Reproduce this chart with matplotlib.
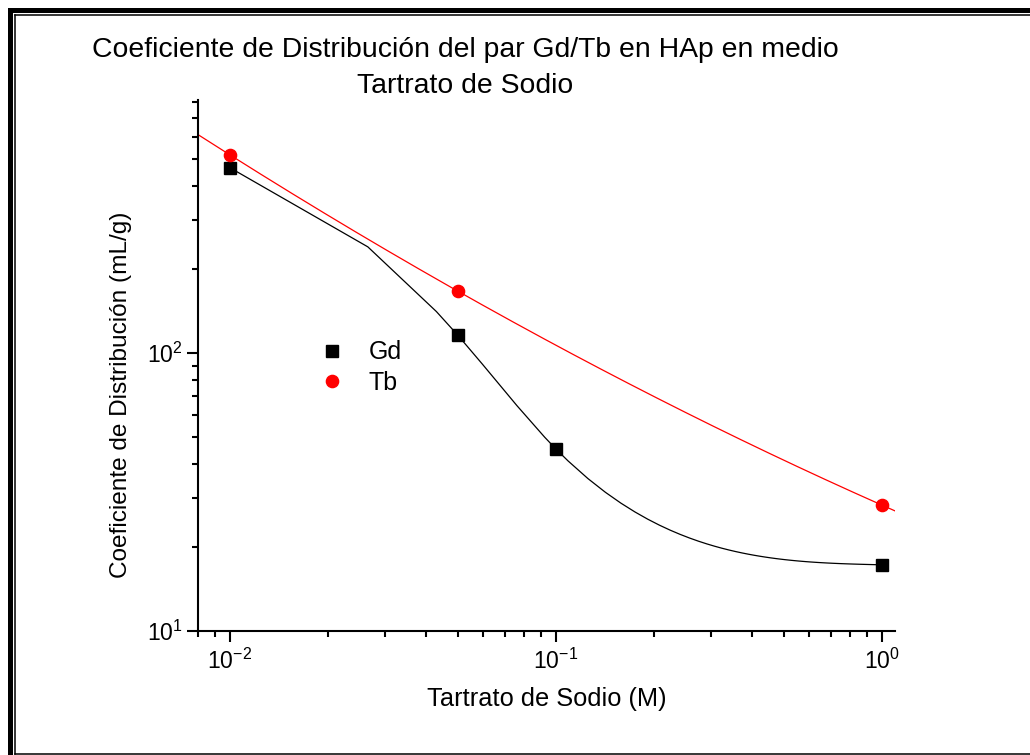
import numpy as np
import matplotlib
matplotlib.use("Agg")
import matplotlib.pyplot as plt
from matplotlib.lines import Line2D

plt.rcParams['font.family'] = ['Liberation Sans', 'DejaVu Sans']
plt.rcParams['mathtext.fontset'] = 'custom'
plt.rcParams['mathtext.rm'] = 'Liberation Sans'
plt.rcParams['mathtext.it'] = 'Liberation Sans:italic'
plt.rcParams['mathtext.bf'] = 'Liberation Sans:bold'

# data
conc_gd = [0.01, 0.05, 0.1, 1.0]
kd_gd = [464, 116, 45.2, 17.3]
conc_tb = [0.01, 0.05, 1.0]
kd_tb = [516, 167, 28.4]

xlim = (0.00798, 1.099)
ylim = (10, 813)


def cubic_spline(x, y, xnew):
    # cubic spline, parabolic run-out at the left end, natural at the right end
    x = np.asarray(x, float)
    y = np.asarray(y, float)
    n = len(x)
    h = np.diff(x)
    d = np.diff(y) / h
    A = np.zeros((n, n))
    r = np.zeros(n)
    A[0, 0], A[0, 1] = 1, -1
    A[-1, -1] = 1
    for i in range(1, n - 1):
        A[i, i - 1] = h[i - 1]
        A[i, i] = 2 * (h[i - 1] + h[i])
        A[i, i + 1] = h[i]
        r[i] = 6 * (d[i] - d[i - 1])
    M = np.linalg.solve(A, r)
    k = np.clip(np.searchsorted(x, xnew) - 1, 0, n - 2)
    t = xnew - x[k]
    b = d[k] - h[k] * (2 * M[k] + M[k + 1]) / 6
    return y[k] + b * t + M[k] / 2 * t**2 + (M[k + 1] - M[k]) / (6 * h[k]) * t**3


# Gd: spline in log-log space, sampled on a linear grid
xs_gd = np.union1d(np.linspace(conc_gd[0], conc_gd[-1], 61), conc_gd)
ys_gd = 10 ** cubic_spline(np.log10(conc_gd), np.log10(kd_gd), np.log10(xs_gd))

# Tb: 2nd order fit in log-log, over the whole axis
p = np.polyfit(np.log10(conc_tb), np.log10(kd_tb), 2)
xs_tb = np.logspace(np.log10(xlim[0]), np.log10(xlim[1]), 200)
ys_tb = 10 ** np.polyval(p, np.log10(xs_tb))

fig = plt.figure(figsize=(10.3, 7.55), dpi=100)
ax = fig.add_axes([198 / 1030, 1 - 631 / 755, 697 / 1030, 531 / 755])

ax.plot(xs_gd, ys_gd, color='black', lw=0.9)
ax.plot(xs_tb, ys_tb, color='red', lw=0.9)
ax.plot(conc_gd, kd_gd, 's', color='black', ms=8, label='Gd')
ax.plot(conc_tb, kd_tb, 'o', color='red', ms=8.8, label='Tb')

ax.set_xscale('log')
ax.set_yscale('log')
ax.set_xlim(xlim)
ax.set_ylim(ylim)

for s in ['top', 'right']:
    ax.spines[s].set_visible(False)
for s in ['left', 'bottom']:
    ax.spines[s].set_linewidth(1.5)

ax.tick_params(which='major', direction='out', length=8, width=1.5, labelsize=16.5, pad=3)
ax.tick_params(which='minor', direction='out', length=4.5, width=1.5)
ax.tick_params(axis='x', which='major', pad=5)

ax.set_xlabel('Tartrato de Sodio (M)', fontsize=18.3)
ax.set_ylabel('Coeficiente de Distribución (mL/g)', fontsize=17.6)
ax.xaxis.set_label_coords(0.501, -0.105)
ax.yaxis.set_label_coords(-0.095, 0.444)

ax.legend(loc='upper left', bbox_to_anchor=(0.157, 0.571), frameon=False,
          fontsize=18, handlelength=1.0, handletextpad=0.95, labelspacing=0.27,
          borderpad=0, numpoints=1)

fig.text(465 / 1030, 1 - 57 / 755, 'Coeficiente de Distribución del par Gd/Tb en HAp en medio',
         ha='center', va='baseline', fontsize=20.4)
fig.text(465 / 1030, 1 - 93 / 755, 'Tartrato de Sodio',
         ha='center', va='baseline', fontsize=20.4)

# double frame round the picture (right side falls outside the picture)
W, H = 1030.0, 755.0
outer = dict(color='black', lw=3.6, solid_capstyle='projecting')
inner = dict(color='black', lw=1.1, solid_capstyle='projecting')
fig.add_artist(Line2D([9.5 / W, 1], [1 - 9.5 / H, 1 - 9.5 / H], **outer))
fig.add_artist(Line2D([9.5 / W, 9.5 / W], [0, 1 - 9.5 / H], **outer))
fig.add_artist(Line2D([14.5 / W, 1], [1 - 14.5 / H, 1 - 14.5 / H], **inner))
fig.add_artist(Line2D([14.5 / W, 14.5 / W], [1 / H, 1 - 14.5 / H], **inner))
fig.add_artist(Line2D([14.5 / W, 1], [1 / H, 1 / H], **inner))

fig.savefig('out.png', dpi=100, facecolor='white')
